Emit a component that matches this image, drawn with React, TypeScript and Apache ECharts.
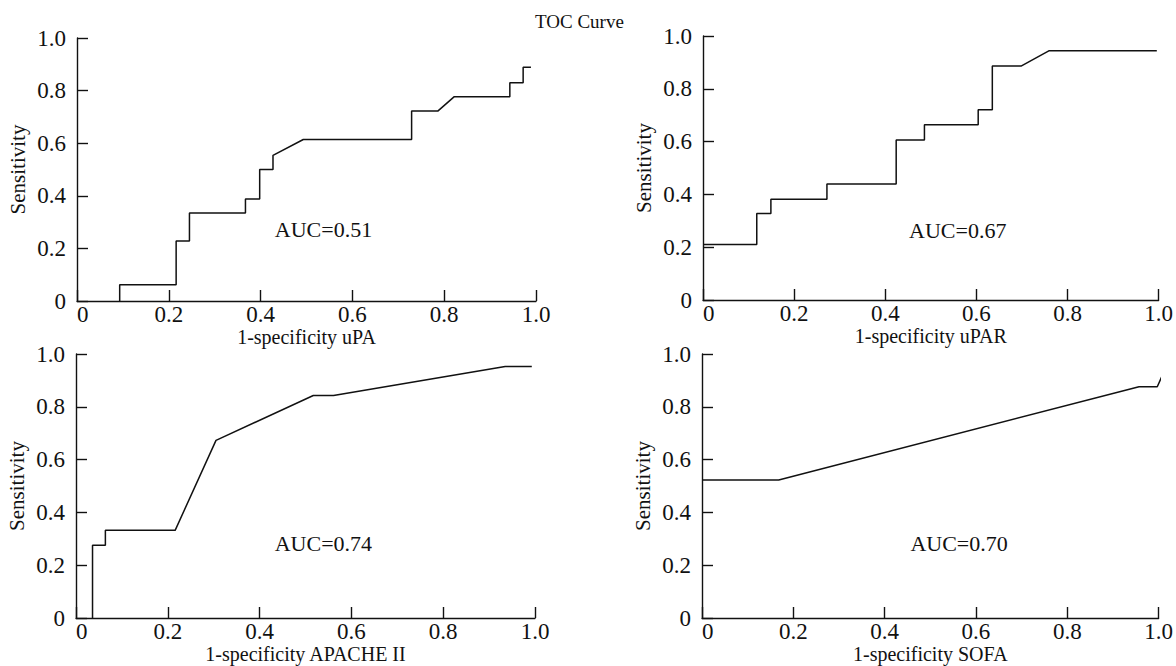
import React, { useEffect, useRef } from "react";
import * as echarts from "echarts";

const titleText = "TOC Curve";
const yName = "Sensitivity";
const xNames = ["1-specificity uPA", "1-specificity uPAR", "1-specificity APACHE II", "1-specificity SOFA"];
const aucLabels = ["AUC=0.51", "AUC=0.67", "AUC=0.74", "AUC=0.70"];
const aucPos = [
  [0.537, 0.27],
  [0.559, 0.264],
  [0.539, 0.282],
  [0.563, 0.282],
];

const uPAx = [0.093, 0.093, 0.216, 0.216, 0.245, 0.245, 0.367, 0.367, 0.398, 0.398, 0.427, 0.427, 0.493, 0.729, 0.729, 0.786, 0.822, 0.943, 0.943, 0.972, 0.972, 0.989];
const uPAy = [0, 0.062, 0.062, 0.228, 0.228, 0.335, 0.335, 0.388, 0.388, 0.5, 0.5, 0.554, 0.614, 0.614, 0.722, 0.722, 0.777, 0.777, 0.83, 0.83, 0.889, 0.889];

const uPARx = [0, 0.118, 0.118, 0.149, 0.149, 0.272, 0.272, 0.424, 0.424, 0.486, 0.486, 0.604, 0.604, 0.635, 0.635, 0.698, 0.759, 0.996];
const uPARy = [0.21, 0.21, 0.328, 0.328, 0.382, 0.382, 0.439, 0.439, 0.606, 0.606, 0.664, 0.664, 0.721, 0.721, 0.886, 0.886, 0.944, 0.944];

const apacheX = [0.036, 0.036, 0.064, 0.064, 0.216, 0.305, 0.517, 0.561, 0.935, 0.993];
const apacheY = [0, 0.276, 0.276, 0.332, 0.332, 0.673, 0.843, 0.843, 0.953, 0.953];

const sofaX = [0, 0.168, 0.957, 0.997, 1.026];
const sofaY = [0.523, 0.523, 0.876, 0.876, 0.989];

const seriesX = [uPAx, uPARx, apacheX, sofaX];
const seriesY = [uPAy, uPARy, apacheY, sofaY];

const FONT = "Liberation Serif";
const INK = "#111";

const grids = [
  { left: 77, top: 38, width: 459, height: 263 },
  { left: 703, top: 36, width: 458, height: 264 },
  { left: 76, top: 354, width: 459, height: 264 },
  { left: 702, top: 354, width: 458, height: 264 },
];

const fmt = (v: number) => (v === 0 ? "0" : v.toFixed(1));

export default function App() {
  const ref = useRef<HTMLDivElement>(null);
  useEffect(() => {
    if (!ref.current) return;
    const chart = echarts.init(ref.current, null, { renderer: "svg" });
    const axisCommon = {
      type: "value",
      min: 0,
      max: 1,
      interval: 0.2,
      splitLine: { show: false },
      axisLine: { show: true, onZero: false, lineStyle: { color: INK, width: 1.4 } },
      axisTick: { show: true, inside: true, length: 11, lineStyle: { color: INK, width: 1.4 } },
    };
    const xAxes = grids.map((_, i) => ({
      ...axisCommon,
      gridIndex: i,
      name: xNames[i],
      nameLocation: "middle",
      nameGap: 24,
      nameTextStyle: { fontFamily: FONT, fontSize: 20, color: INK },
      axisLabel: {
        formatter: fmt,
        margin: 2,
        fontFamily: FONT,
        fontSize: 23,
        color: INK,
        alignMinLabel: "left",
      },
    }));
    const yAxes = grids.map((_, i) => ({
      ...axisCommon,
      gridIndex: i,
      name: yName,
      nameLocation: "middle",
      nameGap: 49,
      nameTextStyle: { fontFamily: FONT, fontSize: 21, color: INK },
      axisLabel: { formatter: fmt, margin: 11, fontFamily: FONT, fontSize: 23, color: INK },
    }));
    const series = grids.map((_, i) => ({
      type: "line",
      xAxisIndex: i,
      yAxisIndex: i,
      showSymbol: false,
      symbol: "none",
      clip: false,
      lineStyle: { color: INK, width: 1.5 },
      data: seriesX[i].map((x, k) => [x, seriesY[i][k]]),
      markPoint: {
        symbol: "rect",
        symbolSize: 1,
        itemStyle: { color: "transparent" },
        label: {
          show: true,
          formatter: aucLabels[i],
          fontFamily: FONT,
          fontSize: 22,
          color: INK,
          position: "inside",
        },
        data: [{ coord: aucPos[i] }],
      },
    }));
    chart.setOption({
      animation: false,
      backgroundColor: "#fff",
      title: {
        text: titleText,
        left: 535,
        top: 12,
        padding: 0,
        textStyle: { fontFamily: FONT, fontSize: 19, fontWeight: "normal", color: INK },
      },
      grid: grids,
      xAxis: xAxes,
      yAxis: yAxes,
      series,
    });
    return () => chart.dispose();
  }, []);
  return (
    <div
      ref={ref}
      style={{ position: "fixed", left: 0, top: 0, width: 1176, height: 666, background: "#fff" }}
    />
  );
}
